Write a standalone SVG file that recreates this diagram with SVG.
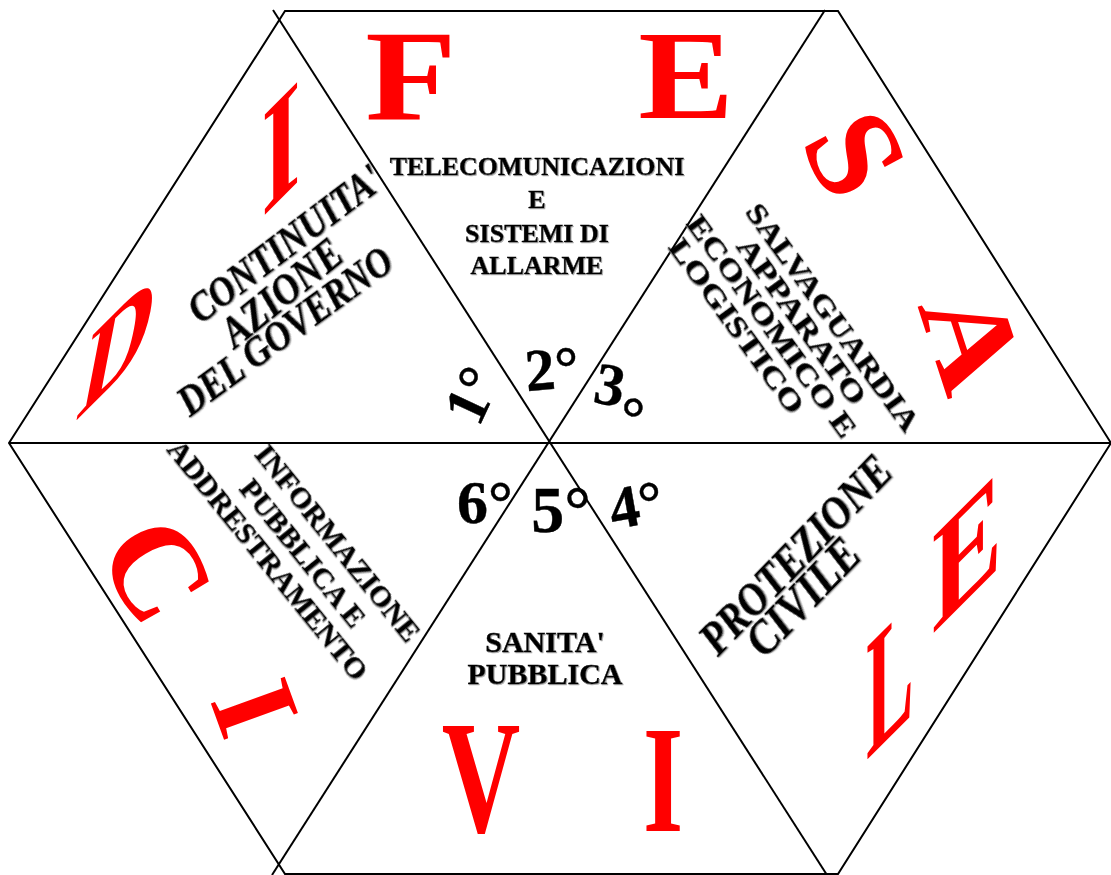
<svg xmlns="http://www.w3.org/2000/svg" width="1111" height="875" viewBox="0 0 1111 875">
<defs>
<style>
.edge{stroke:#000;stroke-width:2;fill:none}
.red{font-family:"Liberation Serif","Times New Roman",serif;font-weight:bold;fill:#FF0000}
.blk{font-family:"Liberation Serif","Times New Roman",serif;font-weight:bold;fill:#000;stroke:#000;stroke-width:0.4}
.it{font-style:italic}
.sh{filter:url(#shadow)}
</style>
<filter id="shadow" x="-10%" y="-10%" width="120%" height="130%">
<feDropShadow dx="1" dy="1" stdDeviation="0.5" flood-color="#888" flood-opacity="0.7"/>
</filter>
</defs>
<rect width="1111" height="875" fill="#fff"/>
<g id="connectors">
<polygon class="edge" points="9,443 285,11 838,11 1111,443 838,874 285,874"/>
<line class="edge" x1="273" y1="10" x2="827" y2="875"/>
<line class="edge" x1="825" y1="10" x2="272" y2="875"/>
<line class="edge" x1="9" y1="443" x2="1111" y2="443"/>
</g>
<g id="letters" class="red">
<text transform="translate(119,343) matrix(1,-1,-0.25,1.3,0,0)" font-size="100" text-anchor="middle" y="33">D</text>
<text transform="translate(281,148) matrix(1,-1,0,1.53,0,0)" font-size="100" text-anchor="middle" y="33">I</text>
<text transform="translate(411,119) scale(1.15,1)" font-size="130" text-anchor="middle">F</text>
<text transform="translate(686,118) scale(1.12,1)" font-size="128" text-anchor="middle">E</text>
<text transform="translate(855,154) rotate(62)" font-size="132" text-anchor="middle" y="44">S</text>
<text transform="translate(972,340) rotate(72) scale(1,0.9)" font-size="138" text-anchor="middle" y="46">A</text>
<text transform="translate(967,551) matrix(1.05,-1.05,0,1.47,0,0)" font-size="100" text-anchor="middle" y="33">E</text>
<text transform="translate(890,680) matrix(0.71,-0.71,0,1.72,0,0)" font-size="100" text-anchor="middle" y="33">L</text>
<text transform="translate(663,831) scale(0.68,1)" font-size="152" text-anchor="middle">I</text>
<text transform="translate(481,832) scale(0.68,1)" font-size="160" text-anchor="middle">V</text>
<text transform="translate(255,708) rotate(70)" font-size="120" text-anchor="middle" y="40">I</text>
<text transform="translate(157,570) rotate(60)" font-size="132" text-anchor="middle" y="44">C</text>
</g>
<g id="sector-1">
<text class="blk it sh" font-size="36" text-anchor="middle" transform="translate(285,244) rotate(-37) scale(1,1.15)" y="12">CONTINUITA'</text>
<text class="blk it sh" font-size="38" text-anchor="middle" transform="translate(282,293) rotate(-39) scale(1,1.15)" y="12.5">AZIONE</text>
<text class="blk it sh" font-size="36" text-anchor="middle" transform="translate(285,331) rotate(-36) scale(1,1.15)" y="12">DEL GOVERNO</text>
<text class="blk" font-size="60" text-anchor="middle" transform="translate(472,395) rotate(-65)" y="20">1°</text>
</g>
<g id="sector-2">
<text class="blk sh" font-size="26" text-anchor="middle" x="537" y="175">TELECOMUNICAZIONI</text>
<text class="blk sh" font-size="26" text-anchor="middle" x="537" y="208">E</text>
<text class="blk sh" font-size="26" text-anchor="middle" x="537" y="242">SISTEMI DI</text>
<text class="blk sh" font-size="26" text-anchor="middle" x="537" y="274">ALLARME</text>
<text class="blk" font-size="60" text-anchor="middle" transform="translate(552,369) rotate(-5)" y="20">2°</text>
</g>
<g id="sector-3">
<text class="blk sh" font-size="30" text-anchor="middle" transform="translate(833,317) rotate(54)" y="10" textLength="274" lengthAdjust="spacingAndGlyphs">SALVAGUARDIA</text>
<text class="blk sh" font-size="30" text-anchor="middle" transform="translate(802,321) rotate(54)" y="10" textLength="199" lengthAdjust="spacingAndGlyphs">APPARATO</text>
<text class="blk sh" font-size="30" text-anchor="middle" transform="translate(772,326) rotate(54)" y="10" textLength="267" lengthAdjust="spacingAndGlyphs">ECONOMICO E</text>
<text class="blk sh" font-size="30" text-anchor="middle" transform="translate(737,326) rotate(54)" y="10" textLength="209" lengthAdjust="spacingAndGlyphs">LOGISTICO</text>
<text class="blk" font-size="60" transform="translate(610,385) rotate(10)" x="-15" y="20">3<tspan dy="29">°</tspan></text>
</g>
<g id="sector-4">
<text class="blk it sh" font-size="40" text-anchor="middle" transform="translate(796,555) rotate(-46) scale(1,1.15)" y="13">PROTEZIONE</text>
<text class="blk it sh" font-size="42" text-anchor="middle" transform="translate(803,597) rotate(-46) scale(1,1.15)" y="14">CIVILE</text>
<text class="blk" font-size="60" text-anchor="middle" transform="translate(636,505) rotate(-10)" y="20">4°</text>
</g>
<g id="sector-5">
<text class="blk sh" font-size="30" text-anchor="middle" x="545" y="652">SANITA'</text>
<text class="blk sh" font-size="30" text-anchor="middle" x="545" y="684">PUBBLICA</text>
<text class="blk" font-size="66" text-anchor="middle" transform="translate(561,510)" y="22">5°</text>
</g>
<g id="sector-6">
<text class="blk sh" font-size="30" text-anchor="middle" transform="translate(338,543) rotate(51)" y="10">INFORMAZIONE</text>
<text class="blk sh" font-size="30" text-anchor="middle" transform="translate(303,553) rotate(51)" y="10">PUBBLICA E</text>
<text class="blk sh" font-size="30" text-anchor="middle" transform="translate(268,560) rotate(51)" y="10">ADDRESTRAMENTO</text>
<text class="blk" font-size="62" text-anchor="middle" transform="translate(485,503)" y="20">6°</text>
</g>
</svg>
